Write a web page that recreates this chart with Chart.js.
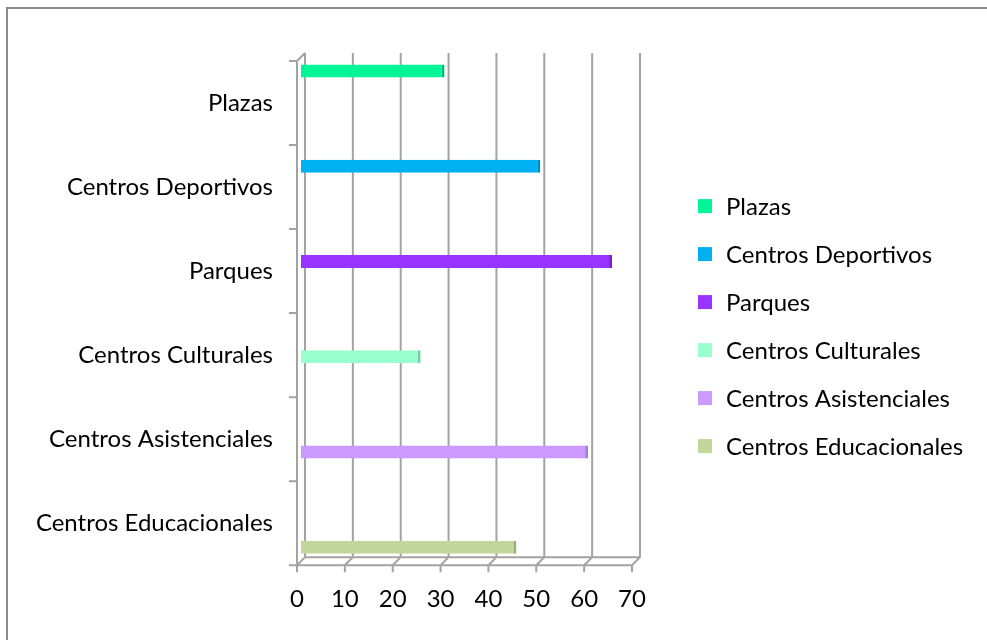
<!DOCTYPE html>
<html>
<head>
<meta charset="utf-8">
<script src="https://cdn.jsdelivr.net/npm/chart.js@4/dist/chart.umd.min.js"></script>
<style>
  body { margin: 0; background: #fff; }
  #wrap { position: relative; width: 987px; height: 640px; overflow: hidden; }
  #frame { position: absolute; left: 6px; top: 7px; width: 1000px; height: 700px;
           border-top: 2px solid #8c8c8c; border-left: 2px solid #8c8c8c; }
  canvas { position: absolute; left: 0; top: 0; }
</style>
</head>
<body>
<div id="wrap">
  <div id="frame"></div>
  <canvas id="myChart" width="987" height="640"></canvas>
</div>
<script>
const categories = ['Plazas', 'Centros Deportivos', 'Parques', 'Centros Culturales', 'Centros Asistenciales', 'Centros Educacionales'];
const values = [30, 50, 65, 25, 60, 45];
const colors = ['#00F596', '#00B0F0', '#9933FF', '#99FFCC', '#CC99FF', '#C3D69B'];
const edgeColors = ['#00b872', '#0088bb', '#7722cc', '#77ccaa', '#a77ad6', '#9aae72'];

const FONT = 'Lato';
const fontSize = 24;

// one series per category, the other slots stay empty (like the Excel original)
const datasets = categories.map((name, k) => ({
    label: name,
    data: categories.map((c, i) => i === k ? values[k] : null),
    backgroundColor: colors[k],
    borderColor: edgeColors[k],
    borderWidth: { top: 0, bottom: 0, left: 0, right: 3 },
    borderSkipped: false,
    categoryPercentage: 0.8,
    barPercentage: 1.15
}));

// 3D-looking walls and grid, all placed from the scales
const depth = 4;
const wall3d = {
    id: 'wall3d',
    beforeDatasetsDraw(chart) {
        const { ctx, chartArea } = chart;
        const xs = chart.scales.x;
        const top = chartArea.top, bottom = chartArea.bottom;
        const x0 = xs.getPixelForValue(xs.min);
        const xN = xs.getPixelForValue(xs.max);
        ctx.save();
        ctx.strokeStyle = '#a3a3a3';
        ctx.lineWidth = 2;
        ctx.beginPath();
        xs.ticks.forEach(t => {
            const x = xs.getPixelForValue(t.value);
            ctx.moveTo(x + depth, top - depth);
            ctx.lineTo(x + depth, bottom - depth);
            ctx.lineTo(x - depth, bottom + depth);
            ctx.lineTo(x - depth, bottom + depth + 7);
        });
        // floor
        ctx.moveTo(x0 - depth, bottom + depth);
        ctx.lineTo(xN - depth, bottom + depth);
        ctx.moveTo(x0 + depth, bottom - depth);
        ctx.lineTo(xN + depth, bottom - depth);
        // left wall
        ctx.moveTo(x0 + depth, top - depth);
        ctx.lineTo(x0 - depth, top + depth);
        ctx.lineTo(x0 - depth, bottom + depth);
        const band = (bottom - top) / categories.length;
        for (let i = 0; i <= categories.length; i++) {
            const y = top + band * i + depth;
            ctx.moveTo(x0 - depth - 8, y);
            ctx.lineTo(x0 - depth, y);
        }
        ctx.stroke();
        ctx.restore();
    }
};

// legend drawn by hand: the built-in one gets squeezed on the right
const sideLegend = {
    id: 'sideLegend',
    afterDraw(chart) {
        const { ctx, chartArea } = chart;
        const x = chartArea.right + 62;
        const step = 48;
        const n = chart.data.datasets.length;
        const y0 = (chartArea.top + chartArea.bottom) / 2 + 17 - step * (n - 1) / 2;
        ctx.save();
        ctx.font = fontSize + 'px ' + FONT;
        ctx.textBaseline = 'middle';
        chart.data.datasets.forEach((ds, k) => {
            const y = y0 + k * step;
            ctx.fillStyle = ds.backgroundColor;
            ctx.fillRect(x, y - 7, 14, 14);
            ctx.fillStyle = '#000';
            ctx.fillText(ds.label, x + 28, y + 1);
        });
        ctx.restore();
    }
};

const ctx = document.getElementById('myChart').getContext('2d');
const myChart = new Chart(ctx, {
    type: 'bar',
    data: {
        labels: categories,
        datasets: datasets
    },
    options: {
        indexAxis: 'y',
        responsive: false,
        animation: false,
        layout: { padding: { top: 57, bottom: 10, left: 0, right: 351 } },
        scales: {
            x: {
                min: 0,
                max: 70,
                grid: { display: false },
                border: { display: false },
                ticks: {
                    stepSize: 10,
                    padding: 16,
                    labelOffset: -4,
                    color: '#000',
                    font: { family: FONT, size: fontSize }
                }
            },
            y: {
                grid: { display: false },
                border: { display: false },
                afterFit(scale) { scale.width = 301; },
                ticks: {
                    padding: 20,
                    labelOffset: 4,
                    color: '#000',
                    font: { family: FONT, size: fontSize }
                }
            }
        },
        plugins: {
            legend: { display: false },
            tooltip: { enabled: false }
        }
    },
    plugins: [wall3d, sideLegend]
});
</script>
</body>
</html>
